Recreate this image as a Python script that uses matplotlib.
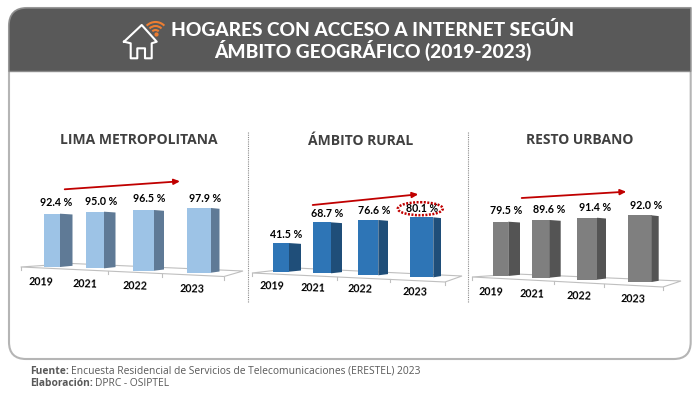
import numpy as np
import matplotlib
matplotlib.use("Agg")
import matplotlib.pyplot as plt
from matplotlib.patches import Arc, Ellipse, PathPatch, Polygon
from matplotlib.path import Path

years = ["2019", "2021", "2022", "2023"]
lima = [92.4, 95.0, 96.5, 97.9]
rural = [41.5, 68.7, 76.6, 80.1]
resto = [79.5, 89.6, 91.4, 92.0]
titles = ["LIMA METROPOLITANA", "ÁMBITO RURAL", "RESTO URBANO"]

# layout of each panel, in pixels of the 700x395 picture
panels = [
    dict(values=lima, title=titles[0], title_xy=(139, 140),
         left=[43.5, 85.5, 133, 187], width=[16.5, 18.5, 21, 24], side=[12.5, 11.5, 10, 8.5],
         base=[267, 268.3, 270.7, 272.7], scale=[0.577, 0.596, 0.629, 0.661],
         front="#9DC3E6", dark="#5F7A96",
         label_xy=[(56, 203), (100.7, 201.7), (149, 199), (205, 198)],
         year_xy=[(41, 282.3), (84.7, 284.3), (134.7, 286.3), (191.7, 288.7)],
         arrow=[(64.7, 189.3), (180, 181.3)],
         floor=[(20.7, 267), (224, 276.5), (243, 271), (72, 263.5)],
         ticks=[(20.7, 267), (108, 271), (162, 273.8), (224, 276.5)]),
    dict(values=rural, title=titles[1], title_xy=(361, 141),
         left=[273.3, 313.3, 358.3, 409.7], width=[15.7, 17.7, 20, 23.6], side=[12, 11, 9.7, 7.7],
         base=[271.7, 273.3, 275.3, 277.3], scale=[0.69, 0.742, 0.722, 0.749],
         front="#2E75B6", dark="#1F4E79",
         label_xy=[(286, 234), (327.3, 213.3), (373.7, 211), (422.3, 208.3)],
         year_xy=[(272, 286), (313.3, 287.7), (360.3, 289.3), (414.7, 291.7)],
         arrow=[(312.7, 205), (418.3, 194.3)],
         floor=[(252, 273), (445, 282), (462, 276), (296, 268)],
         ticks=[(252, 273), (337, 276.8), (390, 279.3), (445, 282)]),
    dict(values=resto, title=titles[2], title_xy=(580, 140),
         left=[493, 532, 577, 628.3], width=[15.3, 17.7, 20, 23.4], side=[11.7, 11, 9, 7],
         base=[276, 277.7, 279.7, 282], scale=[0.683, 0.644, 0.678, 0.725],
         front="#7F7F7F", dark="#545454",
         label_xy=[(506, 211), (549, 209.3), (595, 207.3), (646, 205.3)],
         year_xy=[(491, 292.3), (532.3, 294), (579.3, 296), (633.3, 298.7)],
         arrow=[(521.7, 198), (626.3, 191.7)],
         floor=[(472, 277), (663, 287), (681, 281), (516, 274)],
         ticks=[(472, 277), (554, 281.2), (604, 283.8), (663, 287)]),
]

plt.rcParams["font.family"] = ["Lato", "DejaVu Sans"]


def rounded_box(x0, y0, x1, y1, tl=0, tr=0, br=0, bl=0):
    verts = [(x0 + tl, y0), (x1 - tr, y0), (x1, y0), (x1, y0 + tr), (x1, y1 - br), (x1, y1),
             (x1 - br, y1), (x0 + bl, y1), (x0, y1), (x0, y1 - bl), (x0, y0 + tl), (x0, y0),
             (x0 + tl, y0)]
    codes = [Path.MOVETO, Path.LINETO, Path.CURVE3, Path.CURVE3, Path.LINETO, Path.CURVE3,
             Path.CURVE3, Path.LINETO, Path.CURVE3, Path.CURVE3, Path.LINETO, Path.CURVE3,
             Path.CURVE3]
    return Path(verts, codes)


def draw_panel(ax, p):
    ax.text(*p["title_xy"], p["title"], ha="center", va="center", fontsize=10,
            fontweight="bold", color="#404040", family="Open Sans")
    ax.add_patch(Polygon(p["floor"], closed=True, fc="white", ec="#BFBFBF", lw=0.8, zorder=1))
    for tx, ty in p["ticks"]:
        ax.plot([tx, tx], [ty, ty + 3], color="#BFBFBF", lw=0.8, zorder=1)

    heights = [v * s for v, s in zip(p["values"], p["scale"])]
    ax.bar(p["left"], [-h for h in heights], width=p["width"], bottom=p["base"], align="edge",
           color=p["front"], linewidth=0, zorder=3)
    for i, h in enumerate(heights):
        x1 = p["left"][i] + p["width"][i]
        x2 = x1 + p["side"][i]
        bottom = p["base"][i]
        ax.add_patch(Polygon([(x1, bottom - h), (x2, bottom - h + 0.8), (x2, bottom - 1.2), (x1, bottom)],
                             closed=True, fc=p["dark"], lw=0, zorder=3))
        ax.text(*p["label_xy"][i], f"{p['values'][i]:.1f} %", ha="center", va="center",
                fontsize=7.7, fontweight="bold", color="black", zorder=5)
        ax.text(*p["year_xy"][i], years[i], ha="center", va="center", rotation=-1.5,
                fontsize=7.7, fontweight="bold", color="black", zorder=5)

    ax.annotate("", xy=p["arrow"][1], xytext=p["arrow"][0], zorder=4,
                arrowprops=dict(arrowstyle="-|>,head_length=0.35,head_width=0.16", color="#C00000",
                                lw=1.3, shrinkA=0, shrinkB=0))


def draw_house(ax):
    house_x = [124, 141.7, 156.7, 151.7, 151.7, 145, 145, 137.3, 137.3, 130.7, 130.7, 124]
    house_y = [41.7, 25, 41.7, 43.3, 58.3, 58.3, 48.3, 48.3, 58.3, 58.3, 43.3, 41.7]
    ax.plot(house_x, house_y, color="white", lw=1.5, solid_joinstyle="round", zorder=6)
    for r in [4.5, 8.5, 12.5]:
        ax.add_patch(Arc((155.5, 34.5), 2 * r, 2 * r, theta1=225, theta2=315, color="#ED7D31",
                         lw=1.5, zorder=7))
    ax.plot([155.5], [34], "o", ms=2, color="#ED7D31", zorder=7)


def main():
    fig = plt.figure(figsize=(7, 3.95), dpi=100)
    ax = fig.add_axes([0, 0, 1, 1])
    ax.set_xlim(0, 700)
    ax.set_ylim(395, 0)
    ax.axis("off")

    # frame and header band
    ax.add_patch(PathPatch(rounded_box(9, 8, 690.7, 359, tl=18, br=17, bl=17),
                           fc="white", ec="#B5B5B5", lw=1.5, zorder=0))
    ax.add_patch(PathPatch(rounded_box(9, 8, 690.7, 71.5, tl=18),
                           fc="#595959", ec="#8C8C8C", lw=1, zorder=2))
    draw_house(ax)
    ax.text(373, 30.5, "HOGARES CON ACCESO A INTERNET SEGÚN", ha="center", va="center",
            fontsize=13.8, fontweight="black", color="white", zorder=6)
    ax.text(373, 50.5, "ÁMBITO GEOGRÁFICO (2019-2023)", ha="center", va="center",
            fontsize=13.8, fontweight="black", color="white", zorder=6)

    for x in [247.5, 468]:
        ax.plot([x, x], [132, 302], color="#8C8C8C", lw=0.8, ls=(0, (1, 1)), zorder=1)
    for p in panels:
        draw_panel(ax, p)

    ax.add_patch(Ellipse((420.3, 208.7), 45, 13, fc="none", ec="#C00000", lw=1.8,
                         ls=(0, (0.8, 0.6)), zorder=6))

    # footer
    ax.text(30, 371, "Fuente:", ha="left", va="center", fontsize=7.4, fontweight="bold",
            color="#595959", family="Open Sans")
    ax.text(71, 371, "Encuesta Residencial de Servicios de Telecomunicaciones (ERESTEL) 2023",
            ha="left", va="center", fontsize=7.4, color="#595959", family="Open Sans")
    ax.text(30, 383, "Elaboración:", ha="left", va="center", fontsize=7.4, fontweight="bold",
            color="#595959", family="Open Sans")
    ax.text(95, 383, "DPRC - OSIPTEL", ha="left", va="center", fontsize=7.4, color="#595959",
            family="Open Sans")

    fig.savefig("out.png", dpi=100)


if __name__ == "__main__":
    main()
